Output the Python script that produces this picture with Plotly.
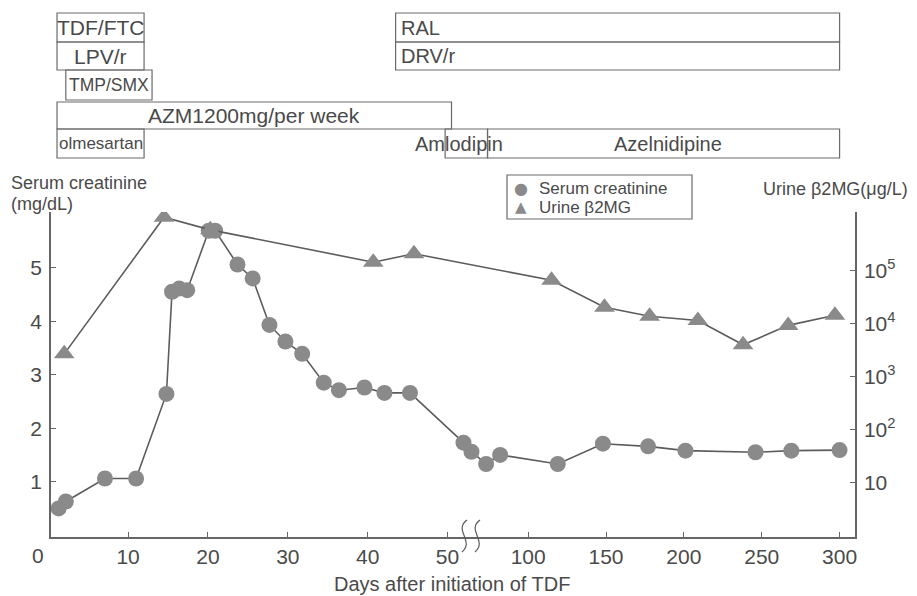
import numpy as np
import plotly.graph_objects as go

# ---------------- data ----------------
cr_days = [1.3, 2.2, 7.1, 11.0, 14.8, 15.5, 16.4, 17.4, 20.1, 20.9, 23.7, 25.6, 27.7,
           29.7, 31.8, 34.5, 36.4, 39.6, 42.1, 45.3, 52, 53, 73, 82, 119, 148, 177,
           201, 246, 269, 300]
cr_vals = [0.50, 0.63, 1.06, 1.06, 2.64, 4.55, 4.61, 4.58, 5.69, 5.69, 5.06, 4.80, 3.93,
           3.62, 3.39, 2.85, 2.71, 2.76, 2.66, 2.66, 1.73, 1.56, 1.33, 1.50, 1.33, 1.71,
           1.66, 1.58, 1.55, 1.58, 1.59]
b2_days = [2.0, 14.5, 20.3, 40.7, 45.8, 115, 149, 178, 209, 238, 267, 297]
b2_vals = [2700, 1020000, 590000, 145000, 209000, 66000, 20400, 13800, 11500, 4000,
           9300, 14500]

x_tick_days = [10, 20, 30, 40, 50, 100, 150, 200, 250, 300]
x_tick_text = ["10", "20", "30", "40", "50", "100", "150", "200", "250", "300"]
y_left_ticks = [1, 2, 3, 4, 5]
y_right_ticks = [10, 100, 1000, 10000, 100000]
y_right_text = ["10", "10<sup>2</sup>", "10<sup>3</sup>", "10<sup>4</sup>", "10<sup>5</sup>"]

# treatment timeline: label, start day, end day, row
drug_labels = ["TDF/FTC", "LPV/r", "TMP/SMX", "AZM1200mg/per week", "olmesartan",
               "RAL", "DRV/r", "Amlodipin", "Azelnidipine"]
drug_start = [1.1, 1.1, 2.2, 1.1, 1.1, 43.5, 43.5, 49.7, 73.9]
drug_end = [12.0, 12.0, 13.0, 50.5, 12.0, 312, 312, 73.9, 312]
drug_row = [0, 1, 2, 3, 4, 0, 1, 4, 4]

# ---------------- broken-axis scale ----------------
def day_to_pos(d):
    return np.interp(d, [0, 53, 70, 300], [0, 53, 54.25, 54.25 + 230 * 0.195])

W, H = 917, 596
ML, MR, MT, MB = 51, 62, 212, 59
PW, PH = W - ML - MR, H - MT - MB
X0, X1 = 0.345, 101.03

def pos_to_paper(p):
    return (p - X0) / (X1 - X0)

def px_x(px):
    return (px - ML) / PW

def px_y(py):
    return (H - MB - py) / PH

TXT = "#4a4a4a"
LINE = "#5c5c5c"
MARK = "#8a8a8a"
FONT = "Liberation Sans, Arial, sans-serif"

fig = go.Figure()
fig.add_trace(go.Scatter(
    x=day_to_pos(b2_days), y=b2_vals, yaxis="y2", mode="lines+markers",
    line=dict(color=LINE, width=1.6),
    marker=dict(symbol="triangle-up", size=18, color=MARK, line=dict(width=0)),
    name="Urine β2MG", showlegend=False))
fig.add_trace(go.Scatter(
    x=day_to_pos(cr_days), y=cr_vals, mode="lines+markers",
    line=dict(color=LINE, width=1.6),
    marker=dict(symbol="circle", size=16, color=MARK, line=dict(width=0)),
    name="Serum creatinine", showlegend=False))

shapes = []
annotations = []

def txt(x, y, text, size, anchor="center", color=TXT, family=FONT):
    return dict(x=x, y=y, xref="paper", yref="paper", text=text, showarrow=False,
                xanchor=anchor, yanchor="middle", font=dict(size=size, color=color, family=family))

# treatment boxes
rows = [(13, 42), (42, 70), (70, 100), (102, 129), (129, 158)]
for lab, s, e, r in zip(drug_labels, drug_start, drug_end, drug_row):
    x0 = pos_to_paper(day_to_pos(s))
    x1 = pos_to_paper(day_to_pos(e))
    y0 = px_y(rows[r][1])
    y1 = px_y(rows[r][0])
    shapes.append(dict(type="rect", xref="paper", yref="paper", x0=x0, x1=x1, y0=y0, y1=y1,
                       line=dict(color="#6a6a6a", width=1.2), fillcolor="rgba(0,0,0,0)"))
    ym = (y0 + y1) / 2
    if lab in ("RAL", "DRV/r"):
        annotations.append(txt(px_x(399), ym, lab, 20, "left"))
    elif lab == "Azelnidipine":
        annotations.append(txt(px_x(668), ym, lab, 20))
    elif lab == "Amlodipin":
        annotations.append(txt(px_x(459), ym, lab, 20))
    elif lab == "TMP/SMX":
        annotations.append(txt((x0 + x1) / 2, ym, lab, 17.5))
    elif lab == "olmesartan":
        annotations.append(txt((x0 + x1) / 2, ym, lab, 17))
    else:
        annotations.append(txt((x0 + x1) / 2, ym, lab, 21))

# axis titles
annotations += [
    txt(px_x(9), px_y(183), "Serum creatinine", 18, "left"),
    txt(px_x(9), px_y(204), "(mg/dL)", 18, "left"),
    txt(px_x(910), px_y(189), "Urine β2MG(μg/L)", 18, "right"),
    txt(px_x(452), px_y(584), "Days after initiation of TDF", 20),
    txt(px_x(38), px_y(555), "0", 21),
]

# legend (drawn)
shapes.append(dict(type="rect", xref="paper", yref="paper", x0=px_x(507), x1=px_x(692),
                   y0=px_y(219), y1=px_y(175), line=dict(color="#6a6a6a", width=1.2)))
annotations += [
    txt(px_x(521), px_y(188), "●", 16, color=MARK, family="DejaVu Sans"),
    txt(px_x(521), px_y(207), "▲", 15, color=MARK, family="DejaVu Sans"),
    txt(px_x(537), px_y(188), "Serum creatinine", 17, "left"),
    txt(px_x(537), px_y(207), "Urine β2MG", 17, "left"),
]

# axis break marks
for dx in (0, 13):
    xa = 467 + dx
    path = "M {a},{b} C {c},{d} {e},{f} {g},{h}".format(
        a=px_x(xa), b=px_y(520), c=px_x(xa - 14), d=px_y(530),
        e=px_x(xa + 8), f=px_y(541), g=px_x(xa - 5), h=px_y(552))
    shapes.append(dict(type="path", xref="paper", yref="paper", path=path,
                       line=dict(color="#5a5a5a", width=1.2)))

axis_common = dict(ticks="inside", ticklen=5, tickcolor="#666", showgrid=False,
                   zeroline=False, showline=True, linecolor="#666", linewidth=1.5,
                   tickfont=dict(size=21, color=TXT))

fig.update_layout(
    width=W, height=H,
    margin=dict(l=ML, r=MR, t=MT, b=MB),
    paper_bgcolor="white", plot_bgcolor="white",
    font=dict(family=FONT, color=TXT),
    showlegend=False,
    xaxis=dict(range=[X0, X1], tickvals=list(day_to_pos(x_tick_days)), ticktext=x_tick_text,
               ticklabelstandoff=0, **axis_common),
    yaxis=dict(range=[-0.034, 6.041], tickvals=y_left_ticks, ticklabelstandoff=3, **axis_common),
    yaxis2=dict(type="log", range=[-0.0245, 6.108], overlaying="y", side="right",
                tickvals=y_right_ticks, ticktext=y_right_text, ticklabelstandoff=3,
                **axis_common),
    shapes=shapes, annotations=annotations,
)

fig.write_html("out.html", config={"displayModeBar": False},
               post_script="document.body.style.margin='0';document.body.style.overflow='hidden';")
